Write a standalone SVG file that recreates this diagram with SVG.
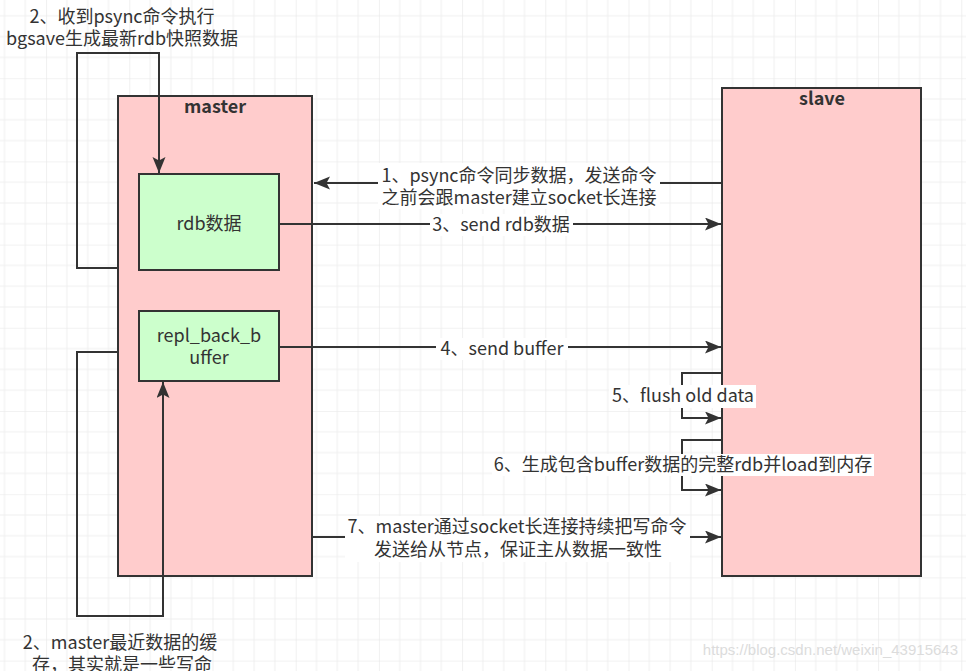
<svg xmlns="http://www.w3.org/2000/svg" width="966" height="671" viewBox="0 0 966 671">
<defs>
<pattern id="grid" x="-37.1" y="-5" width="83.2" height="83.2" patternUnits="userSpaceOnUse">
<path d="M20.8 0V83.2M41.6 0V83.2M62.4 0V83.2M0 20.8H83.2M0 41.6H83.2M0 62.4H83.2" stroke="#f0f0f0" stroke-width="1" fill="none"/>
<path d="M0 0V83.2M0 0H83.2" stroke="#e6e6e6" stroke-width="1.2" fill="none"/>
</pattern>
<marker id="arr" markerUnits="userSpaceOnUse" markerWidth="18" markerHeight="14" refX="16" refY="6.5" orient="auto">
<path d="M0 0L16 6.5L0 13L3.5 6.5Z" fill="#333"/>
</marker>
<style>
.box{stroke:#333;stroke-width:2}
.pink{fill:#ffcccc}
.green{fill:#ccffcc}
.ln{fill:none;stroke:#333;stroke-width:2}
.t{font-family:"Noto Sans CJK SC","Microsoft YaHei",sans-serif;font-size:18px;fill:#333;text-anchor:middle}
.b{font-weight:bold}
.bg{fill:#fff}
</style>
</defs>
<rect width="966" height="671" fill="#fff"/>
<rect width="966" height="671" fill="url(#grid)"/>

<g id="master">
<rect class="box pink" x="118" y="96" width="194" height="480"/>
<text class="t b" x="215" y="113">master</text>
</g>
<g id="slave">
<rect class="box pink" x="722" y="88" width="199" height="488"/>
<text class="t b" x="822" y="105">slave</text>
</g>
<g id="rdb">
<rect class="box green" x="139" y="174" width="140" height="96"/>
<text class="t" x="209" y="230">rdb数据</text>
</g>
<g id="repl">
<rect class="box green" x="139" y="311" width="140" height="70"/>
<text class="t" x="209" y="342">repl_back_b</text>
<text class="t" x="209" y="364">uffer</text>
</g>

<g id="connectors">
<path class="ln" d="M722 183H314" marker-end="url(#arr)"/>
<path class="ln" d="M279 224H721" marker-end="url(#arr)"/>
<path class="ln" d="M279 347H721" marker-end="url(#arr)"/>
<path class="ln" d="M722 373H682V418H721" marker-end="url(#arr)"/>
<path class="ln" d="M722 440H682V490H721" marker-end="url(#arr)"/>
<path class="ln" d="M312 537H721" marker-end="url(#arr)"/>
<path class="ln" d="M118 268H77V53H159V173" marker-end="url(#arr)"/>
<path class="ln" d="M118 352H77V616H163V382" marker-end="url(#arr)"/>

<rect class="bg" x="378" y="163" width="282" height="46"/>
<text class="t" x="519" y="182">1、psync命令同步数据，发送命令</text>
<text class="t" x="519" y="204">之前会跟master建立socket长连接</text>
<rect class="bg" x="430" y="214" width="143" height="22"/>
<text class="t" x="501" y="231">3、send rdb数据</text>
<rect class="bg" x="436" y="338" width="132" height="22"/>
<text class="t" x="502" y="355">4、send buffer</text>
<rect class="bg" x="609" y="385" width="147" height="23"/>
<text class="t" x="683" y="402">5、flush old data</text>
<rect class="bg" x="492" y="454" width="382" height="22"/>
<text class="t" x="683" y="471">6、生成包含buffer数据的完整rdb并load到内存</text>
<rect class="bg" x="345" y="516" width="345" height="46"/>
<text class="t" x="517" y="533">7、master通过socket长连接持续把写命令</text>
<text class="t" x="518" y="556">发送给从节点，保证主从数据一致性</text>
<text class="t" x="122" y="23">2、收到psync命令执行</text>
<text class="t" x="122" y="45">bgsave生成最新rdb快照数据</text>
<text class="t" x="120" y="649">2、master最近数据的缓</text>
<text class="t" x="122" y="671">存，其实就是一些写命</text>
</g>
<text x="958" y="655" font-family="Liberation Sans, sans-serif" font-size="15" fill="#dcdcdc" text-anchor="end">https://blog.csdn.net/weixin_43915643</text>
</svg>
